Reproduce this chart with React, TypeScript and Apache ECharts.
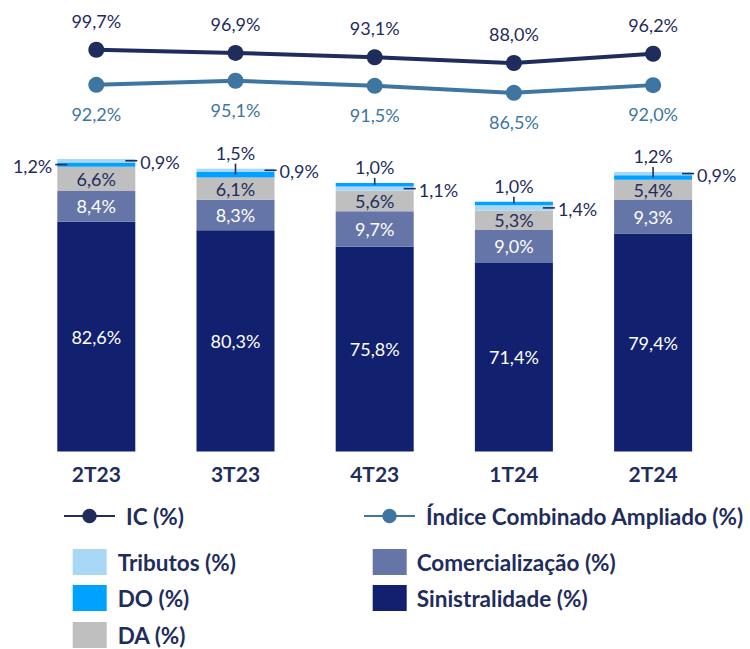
import React, { useEffect, useRef } from "react";
import * as echarts from "echarts";

// ---- data ----
const categories = ["2T23", "3T23", "4T23", "1T24", "2T24"];
const sinistralidade = [82.6, 80.3, 75.8, 71.4, 79.4];
const comercializacao = [8.4, 8.3, 9.7, 9.0, 9.3];
const despAdm = [6.6, 6.1, 5.6, 5.3, 5.4];
const despOp = [1.2, 1.5, 1.0, 1.0, 1.2];
const tributos = [0.9, 0.9, 1.1, 1.4, 0.9];
const ic = [99.7, 96.9, 93.1, 88.0, 96.2];
const icAmpliado = [92.2, 95.1, 91.5, 86.5, 92.0];

// ---- stacking / label layout (style, not data) ----
const tributosOnTop = [true, true, false, false, true];
const doLabelSide = ["left", "top", "top", "top", "top"];

// ---- styles ----
const FONT = "Lato";
const NAVY_TEXT = "#1f2d5c";
const C_SIN = "#12216f";
const C_COM = "#6675a8";
const C_DA = "#bfbfbf";
const C_DO = "#00a2ff";
const C_TRIB = "#a9d8f7";
const C_IC = "#1f2d5c";
const C_ICA = "#3e76a1";
const BAR_W = 78;
const GRID_LEFT = 26.7;
const GRID_RIGHT = 27.3;
const LEGEND_FS = 22.5;

const fmt = (v: number) => v.toFixed(1).replace(".", ",") + "%";

export default function App() {
  const ref = useRef<HTMLDivElement>(null);
  useEffect(() => {
    if (!ref.current) return;
    const chart = echarts.init(ref.current, undefined, { renderer: "svg" });

    const tribLow = tributos.map((v, i) => (tributosOnTop[i] ? "-" : v));
    const tribHigh = tributos.map((v, i) => (tributosOnTop[i] ? v : "-"));

    const labelData = categories.map((_, i) => {
      const base = sinistralidade[i] + comercializacao[i] + despAdm[i];
      let doMid, tribMid;
      if (tributosOnTop[i]) {
        doMid = base + despOp[i] / 2;
        tribMid = base + despOp[i] + tributos[i] / 2;
      } else {
        tribMid = base + tributos[i] / 2;
        doMid = base + tributos[i] + despOp[i] / 2;
      }
      const top = base + despOp[i] + tributos[i];
      return [i, doMid, tribMid, top];
    });

    const barLabel = (color: string) => ({
      show: true,
      position: "inside",
      color,
      fontSize: 18,
      fontFamily: FONT,
      formatter: (p: any) => fmt(p.value),
    });

    const txt = (text: string, x: number, y: number, align: string) => ({
      type: "text",
      style: {
        text,
        x,
        y,
        fill: NAVY_TEXT,
        font: `18px ${FONT}`,
        align,
        verticalAlign: "middle",
        textAlign: align,
        textVerticalAlign: "middle",
      },
    });
    const ln = (x1: number, y1: number, x2: number, y2: number) => ({
      type: "line",
      shape: { x1, y1, x2, y2 },
      style: { stroke: NAVY_TEXT, lineWidth: 1.6 },
    });

    const legendText = (padLeft: number) => ({
      color: NAVY_TEXT,
      fontSize: LEGEND_FS,
      fontWeight: "bold",
      fontFamily: FONT,
      padding: [0, 0, 0, padLeft],
    });
    const lineLegend = (name: string, left: number) => ({
      data: [name],
      left,
      top: 504.5,
      padding: 0,
      itemWidth: 51,
      itemHeight: 18,
      textStyle: legendText(6),
    });
    const boxLegend = (names: string[], left: number, top: number, pad: number) => ({
      data: names,
      orient: "vertical",
      left,
      top,
      padding: 0,
      itemWidth: 34,
      itemHeight: 26,
      itemGap: 10,
      icon: "rect",
      textStyle: legendText(pad),
    });

    const option: any = {
      animation: false,
      textStyle: { fontFamily: FONT },
      grid: [
        { left: GRID_LEFT, right: GRID_RIGHT, top: 158, height: 293.5 },
        { left: GRID_LEFT, right: GRID_RIGHT, top: 20, height: 100 },
      ],
      xAxis: [
        {
          type: "category",
          gridIndex: 0,
          data: categories,
          axisLine: { show: false },
          axisTick: { show: false },
          axisLabel: {
            color: NAVY_TEXT,
            fontSize: 21,
            fontWeight: "bold",
            fontFamily: FONT,
            margin: 11,
          },
        },
        { type: "category", gridIndex: 1, data: categories, show: false },
      ],
      yAxis: [
        { type: "value", gridIndex: 0, min: 20, max: 100, show: false },
        { type: "value", gridIndex: 1, min: 38.04, max: 125.76, show: false },
        { type: "value", gridIndex: 1, min: 67.1, max: 138.5, show: false },
      ],
      legend: [
        lineLegend("IC (%)", 63),
        lineLegend("Índice Combinado Ampliado (%)", 363),
        boxLegend(["Tributos (%)", "DO (%)"], 72.7, 549, 6),
        boxLegend(["DA (%)"], 72.7, 622, 6),
        boxLegend(["Comercialização (%)", "Sinistralidade (%)"], 372.7, 549, 5),
      ],
      series: [
        {
          name: "Sinistralidade (%)",
          type: "bar",
          stack: "total",
          barWidth: BAR_W,
          data: sinistralidade,
          itemStyle: { color: C_SIN },
          label: barLabel("#ffffff"),
        },
        {
          name: "Comercialização (%)",
          type: "bar",
          stack: "total",
          barWidth: BAR_W,
          data: comercializacao,
          itemStyle: { color: C_COM },
          label: barLabel("#ffffff"),
        },
        {
          name: "DA (%)",
          type: "bar",
          stack: "total",
          barWidth: BAR_W,
          data: despAdm,
          itemStyle: { color: C_DA },
          label: barLabel(NAVY_TEXT),
        },
        {
          name: "Tributos (%)",
          type: "bar",
          stack: "total",
          barWidth: BAR_W,
          data: tribLow,
          itemStyle: { color: C_TRIB },
        },
        {
          name: "DO (%)",
          type: "bar",
          stack: "total",
          barWidth: BAR_W,
          data: despOp,
          itemStyle: { color: C_DO },
        },
        {
          name: "Tributos (%)",
          type: "bar",
          stack: "total",
          barWidth: BAR_W,
          data: tribHigh,
          itemStyle: { color: C_TRIB },
        },
        {
          name: "rotulos",
          type: "custom",
          xAxisIndex: 0,
          yAxisIndex: 0,
          z: 10,
          silent: true,
          encode: { x: 0, y: 3 },
          data: labelData,
          renderItem: (params: any, api: any) => {
            const i = api.value(0);
            const [cx, yDo] = api.coord([i, api.value(1)]);
            const yTrib = api.coord([i, api.value(2)])[1];
            const yTop = api.coord([i, api.value(3)])[1];
            const half = BAR_W / 2;
            const children: any[] = [];
            if (doLabelSide[i] === "left") {
              children.push(ln(cx - half - 2, yDo, cx - half + 10, yDo));
              children.push(txt(fmt(despOp[i]), cx - half - 5, yDo + 1, "right"));
            } else {
              children.push(ln(cx, yDo, cx, yTop - 5));
              children.push(txt(fmt(despOp[i]), cx, yTop - 16, "center"));
            }
            children.push(ln(cx + half - 10, yTrib, cx + half + 2, yTrib));
            children.push(txt(fmt(tributos[i]), cx + half + 5, yTrib + 1, "left"));
            return { type: "group", children };
          },
        },
        {
          name: "IC (%)",
          type: "line",
          xAxisIndex: 1,
          yAxisIndex: 1,
          data: ic,
          symbol: "circle",
          symbolSize: 16,
          itemStyle: { color: C_IC },
          lineStyle: { color: C_IC, width: 4 },
          label: {
            show: true,
            position: "top",
            distance: 12,
            color: C_IC,
            fontSize: 18,
            fontFamily: FONT,
            formatter: (p: any) => fmt(p.value),
          },
        },
        {
          name: "Índice Combinado Ampliado (%)",
          type: "line",
          xAxisIndex: 1,
          yAxisIndex: 2,
          data: icAmpliado,
          symbol: "circle",
          symbolSize: 16,
          itemStyle: { color: C_ICA },
          lineStyle: { color: C_ICA, width: 4 },
          label: {
            show: true,
            position: "bottom",
            distance: 12,
            color: C_ICA,
            fontSize: 18,
            fontFamily: FONT,
            formatter: (p: any) => fmt(p.value),
          },
        },
      ],
    };

    chart.setOption(option);
    return () => chart.dispose();
  }, []);

  return (
    <div
      ref={ref}
      style={{ position: "fixed", left: 0, top: 0, width: 750, height: 649, background: "#ffffff" }}
    />
  );
}
